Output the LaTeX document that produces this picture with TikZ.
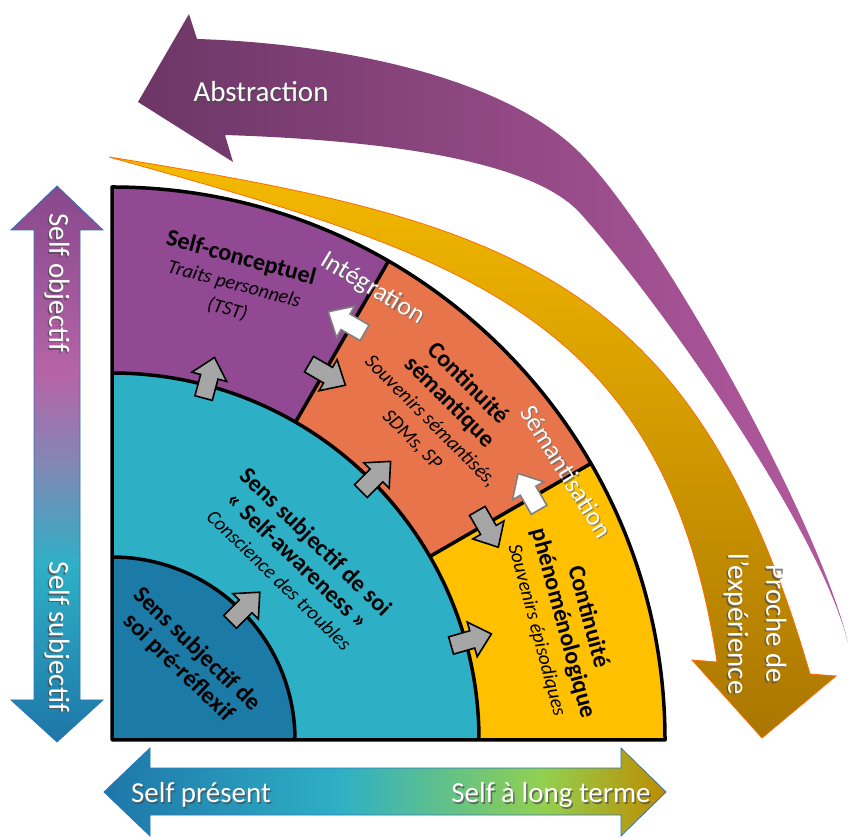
\documentclass[tikz,border=0pt]{standalone}
\usepackage{fontspec}
\setmainfont{Carlito}
\definecolor{cPurple}{RGB}{146,73,147}
\definecolor{cOrange}{RGB}{232,116,76}
\definecolor{cYellow}{RGB}{255,192,0}
\definecolor{cCyan}{RGB}{45,176,198}
\definecolor{cBlue}{RGB}{27,122,166}
\definecolor{cGray}{RGB}{166,166,166}
\definecolor{sBlue}{RGB}{30,118,168}
\definecolor{sCyan}{RGB}{46,176,198}
\definecolor{sMid}{RGB}{130,135,180}
\definecolor{sPink}{RGB}{182,100,168}
\definecolor{sPurple}{RGB}{136,72,140}
\definecolor{hGreen}{RGB}{146,208,80}
\definecolor{hGold}{RGB}{190,140,0}
\definecolor{pDark}{RGB}{108,54,102}
\definecolor{pMid}{RGB}{160,80,145}
\definecolor{pLight}{RGB}{180,90,160}
\definecolor{gTop}{RGB}{245,186,0}
\definecolor{gMid}{RGB}{232,170,0}
\definecolor{gBot}{RGB}{170,118,0}
\definecolor{aBlue}{RGB}{46,117,182}
\pgfdeclareverticalshading{vself}{100bp}{color(0bp)=(sBlue); color(25bp)=(sBlue); color(41bp)=(sCyan); color(50bp)=(sMid); color(58bp)=(sPink); color(75bp)=(sPurple); color(100bp)=(sPurple)}
\pgfdeclarehorizontalshading{hself}{100bp}{color(0bp)=(sBlue); color(25bp)=(sBlue); color(46bp)=(sCyan); color(64bp)=(hGreen); color(75bp)=(hGold); color(100bp)=(hGold)}
\newcommand\bt[1]{{\fontsize{24}{26}\selectfont\bfseries #1}}
\newcommand\itx[1]{{\itshape #1}}
\newcommand\blkarrow[3]{\draw[#3,shift={(#1)},rotate=#2] (-21,-9) -- (1,-9) -- (1,-18) -- (21,0) -- (1,18) -- (1,9) -- (-21,9) -- cycle;}
\begin{document}
\begin{tikzpicture}[x=1pt,y=1pt,
  sector/.style={draw=black,line width=3.5pt,line join=round},
  blk/.style={draw=black,line width=1.6pt,fill=cGray,line join=miter},
  wblk/.style={draw=gray,line width=1.6pt,fill=white,line join=miter},
  wtxt/.style={text=white,font=\fontsize{29}{38}\selectfont,inner sep=0pt,align=center},
  stxt/.style={text=black!70,opacity=0.7,font=\fontsize{29}{38}\selectfont,inner sep=0pt,align=center},
  wsm/.style={text=white,font=\fontsize{26}{30}\selectfont,inner sep=0pt},
  ssm/.style={text=black!60,opacity=0.75,font=\fontsize{26}{30}\selectfont,inner sep=0pt},
  rlbl/.style={align=center,inner sep=0pt,font=\fontsize{20}{26}\selectfont,text=black}]
\useasboundingbox (0,0) rectangle (850,837);

% big purple arrow
\shade[left color=pDark,middle color=pMid,right color=pLight]
  (848,194) .. controls (820,314) and (660,604) .. (580,684)
            .. controls (500,764) and (327,794) .. (197,798)
  -- (189,823) -- (138,735) -- (233,675) -- (225,702)
  .. controls (345,698) and (525,684) .. (580,624)
  .. controls (650,547) and (818,314) .. (848,194) -- cycle;

% gold arrow
\shadedraw[top color=gTop,middle color=gMid,bottom color=gBot,draw=orange!85!red,line width=0.8pt]
  (109,680) .. controls (509,616) and (694,563) .. (810,163)
  -- (836,161) -- (762,99) -- (692,177) -- (717,175)
  .. controls (664.5,525) and (459,582) .. (109,680) -- cycle;

% left double arrow
\shadedraw[shading=vself,draw=aBlue,line width=0.8pt]
  (57,651) -- (103,607) -- (80,607) -- (80,137) -- (103,137) -- (57,95) -- (11,137) -- (34,137) -- (34,607) -- (11,607) -- cycle;
% bottom double arrow
\shadedraw[shading=hself,draw=aBlue,line width=0.8pt]
  (104,45) -- (150,89) -- (150,69) -- (621,69) -- (621,89) -- (666,45) -- (621,1) -- (621,22) -- (150,22) -- (150,1) -- cycle;

% labels on arrows
\node[stxt] (abs-s) at (262.5,743.5) {Abstraction};
\node[wtxt] (abs) at (261,745) {Abstraction};
\node[stxt,rotate=-90] (sobj-s) at (55.5,552.5) {Self objectif};
\node[wtxt,rotate=-90] (sobj) at (57,554) {Self objectif};
\node[stxt,rotate=-90] (ssub-s) at (55.5,198.5) {Self subjectif};
\node[wtxt,rotate=-90] (ssub) at (57,200) {Self subjectif};
\node[stxt] (spres-s) at (202.5,40.5) {Self présent};
\node[wtxt] (spres) at (201,42) {Self présent};
\node[stxt] (slong-s) at (552.5,40.5) {Self à long terme};
\node[wtxt] (slong) at (551,42) {Self à long terme};
\node[stxt,rotate=-90] (proche-s) at (753.5,211.5) {Proche de\\l’expérience};
\node[wtxt,rotate=-90] (proche) at (755,213) {Proche de\\l’expérience};

\begin{scope}[shift={(112,97)}]
  \fill[cPurple] (0,0) -- (60:553) arc[start angle=60,end angle=90,radius=553pt] -- cycle;
  \fill[cOrange] (0,0) -- (30:553) arc[start angle=30,end angle=60,radius=553pt] -- cycle;
  \fill[cYellow] (0,0) -- (553,0) arc[start angle=0,end angle=30,radius=553pt] -- cycle;
  \fill[cCyan] (0,0) -- (367,0) arc[start angle=0,end angle=90,radius=367pt] -- cycle;
  \fill[cBlue] (0,0) -- (183,0) arc[start angle=0,end angle=90,radius=183pt] -- cycle;
  \draw[sector] (183,0) arc[start angle=0,end angle=90,radius=183pt];
  \draw[sector] (367,0) arc[start angle=0,end angle=90,radius=367pt];
  \draw[sector] (60:367) -- (60:553);
  \draw[sector] (30:367) -- (30:553);
  \draw[sector] (0,0) -- (553,0) arc[start angle=0,end angle=90,radius=553pt] -- cycle;

  % block arrows
  \blkarrow{45:188}{45}{blk}
  \blkarrow{45:373}{45}{blk}
  \blkarrow{75:375}{75}{blk}
  \blkarrow{15.6:373}{16}{blk}
  \blkarrow{59.5:424}{-30}{blk}
  \blkarrow{29.3:431}{-60}{blk}
  \blkarrow{60.7:479}{150}{wblk}
  \blkarrow{30.8:485}{120}{wblk}

  % region labels
  \node[rlbl,rotate=-15] (sc) at (75:473) {\bt{Self-conceptuel}\\\itx{Traits personnels}\\\itx{(TST)}};
  \node[rlbl,rotate=-45] (cs) at (45:465) {\bt{Continuité}\\\bt{sémantique}\\\itx{Souvenirs sémantisés,}\\\itx{SDMs, SP}};
  \node[rlbl,rotate=-75] (cp) at (14.5:466) {\bt{Continuité}\\\bt{phénoménologique}\\\itx{Souvenirs épisodiques}};
  \node[rlbl,rotate=-44] (ss) at (44:259) {\bt{Sens subjectif de soi}\\\bt{«~Self-awareness~»}\\\itx{Conscience des troubles}};
  \node[rlbl,rotate=-44] (spr) at (47:111) {\bt{Sens subjectif de}\\\bt{soi pré-réflexif}};

  \node[ssm,rotate=-31] (integ-s) at ([xshift=1.3pt,yshift=-1.3pt]60:521) {Intégration};
  \node[wsm,rotate=-31] (integ) at (60:521) {Intégration};
  \node[ssm,rotate=-58] (seman-s) at ([xshift=1.3pt,yshift=-1.3pt]30.6:528) {Sémantisation};
  \node[wsm,rotate=-58] (seman) at (30.6:528) {Sémantisation};
\end{scope}
\end{tikzpicture}
\end{document}
